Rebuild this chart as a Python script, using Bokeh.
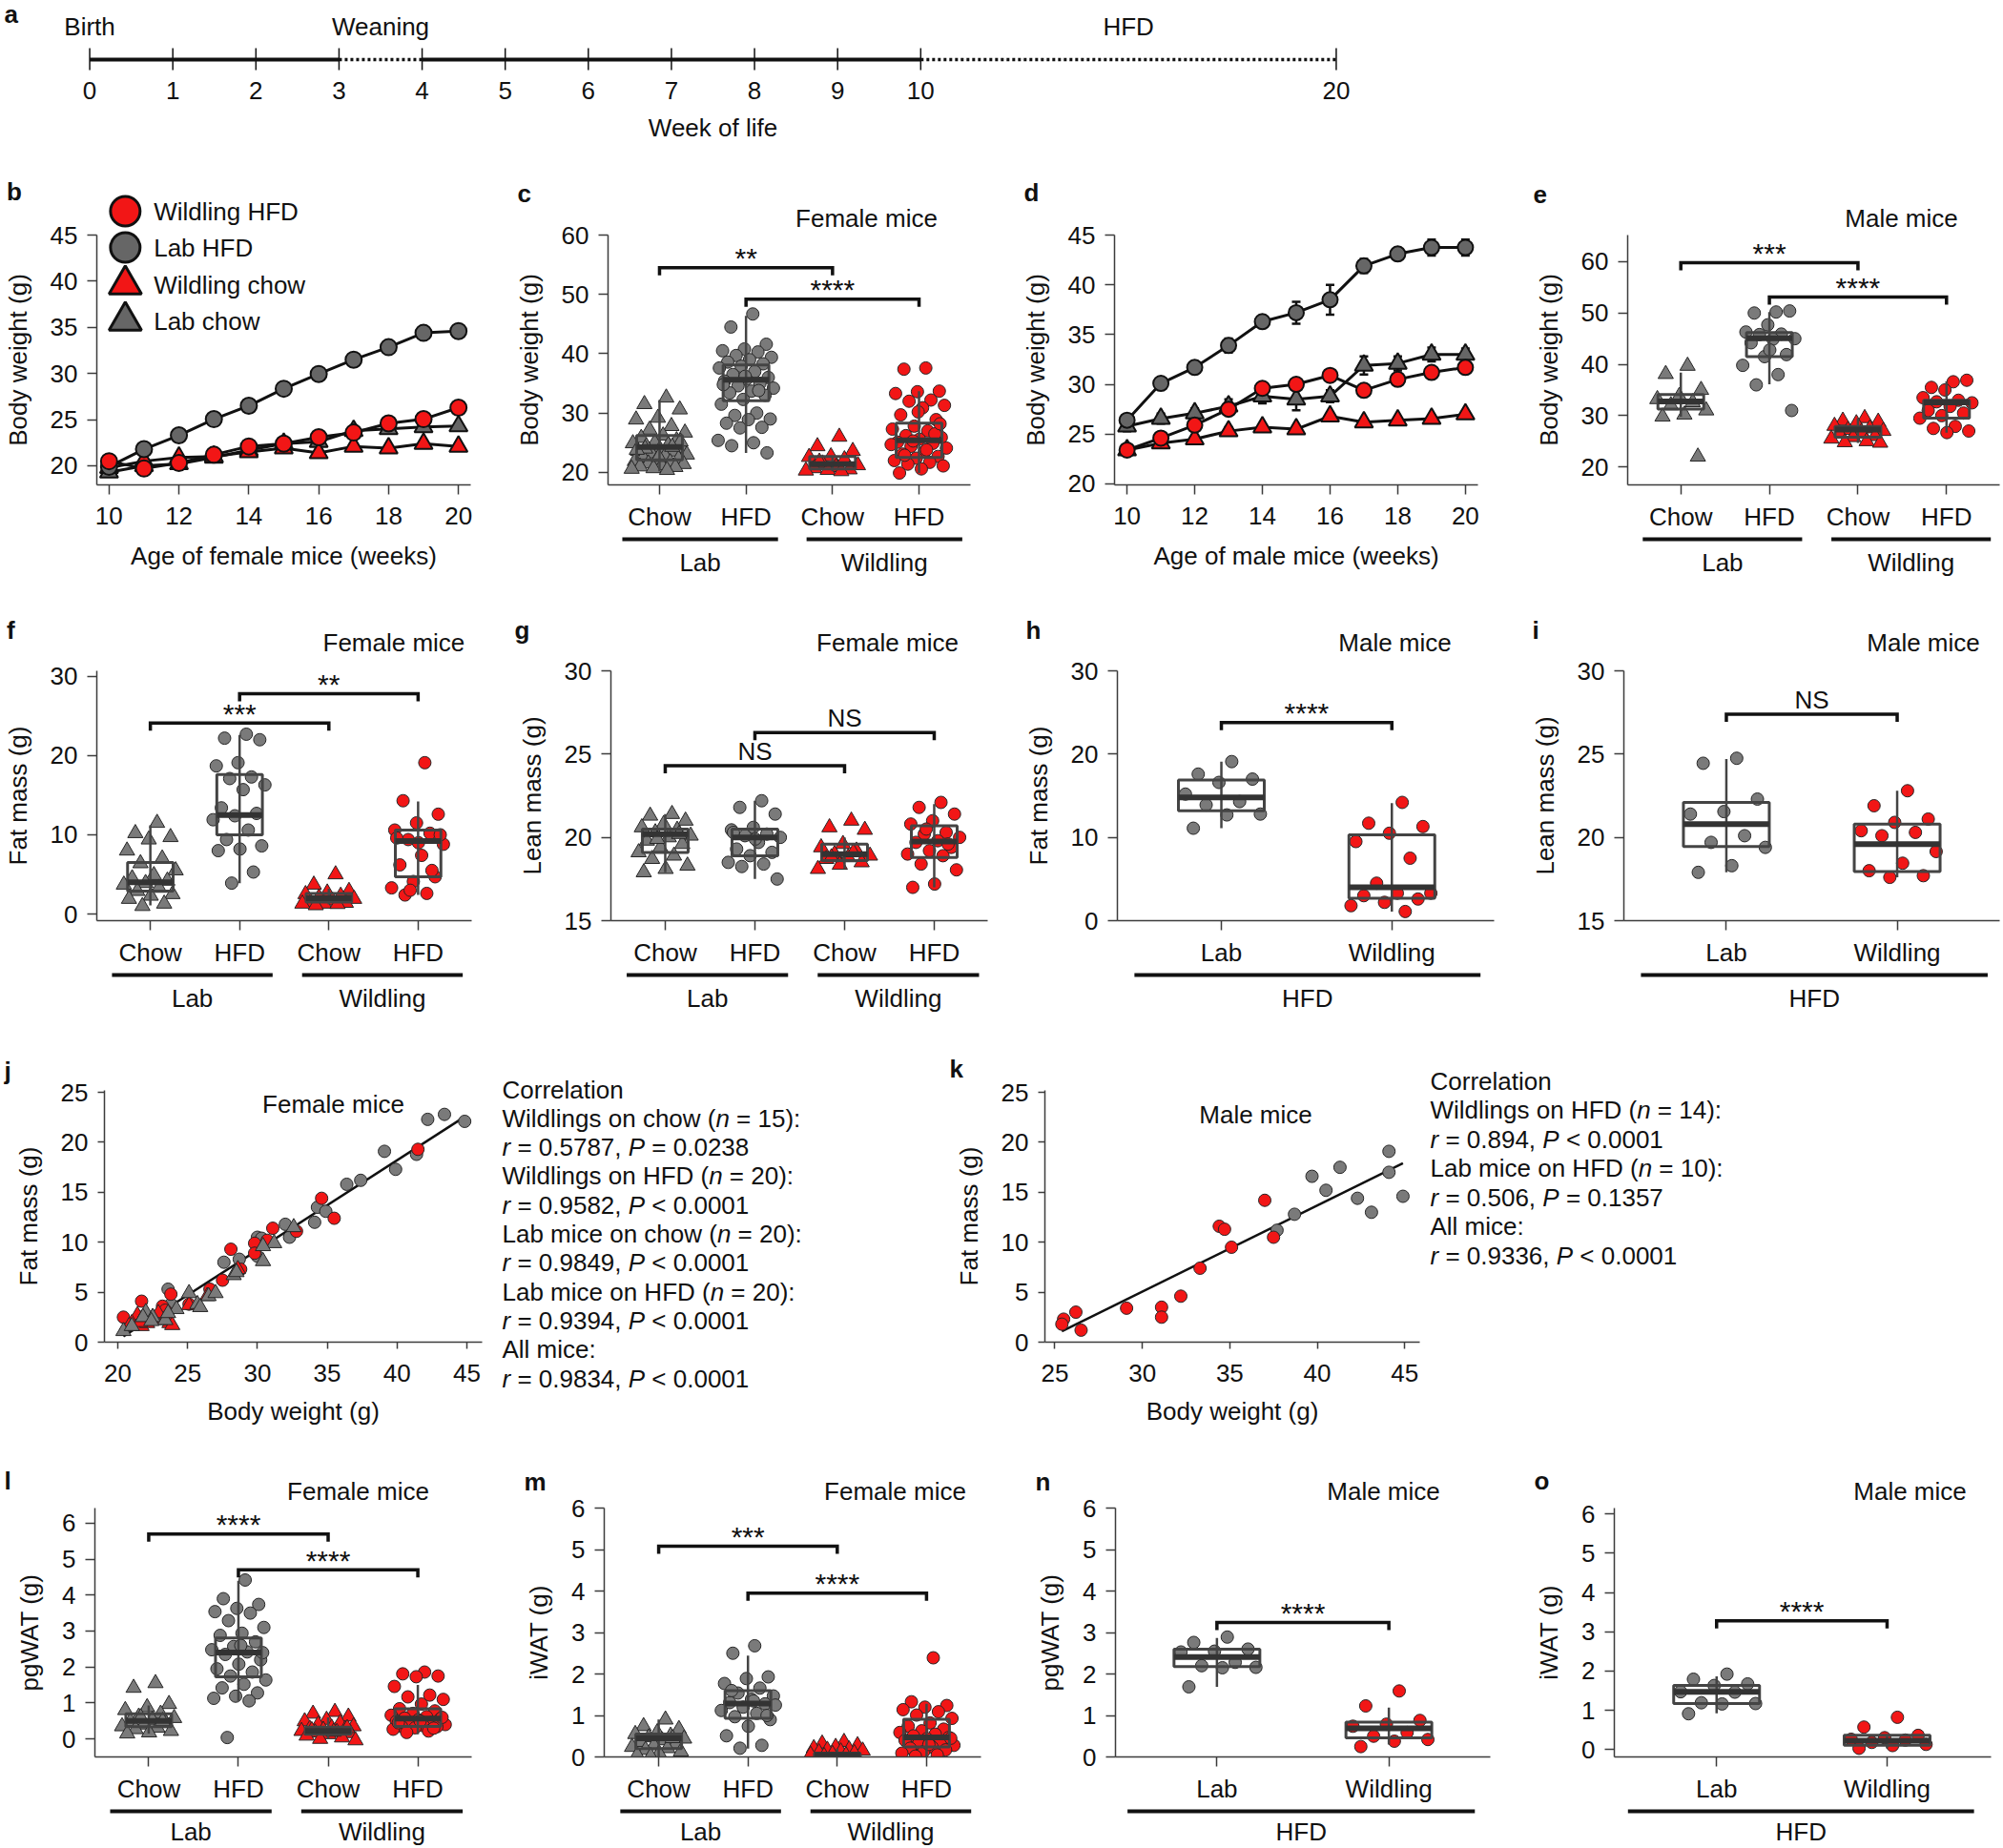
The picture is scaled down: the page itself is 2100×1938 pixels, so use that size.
import re
import numpy as np
from bokeh.plotting import figure
from bokeh.layouts import column, row
from bokeh.models import Range1d, FixedTicker
from bokeh.embed import file_html
from bokeh.resources import INLINE
from bokeh.core.properties import value

FONT = "Liberation Sans"
FSN = 26
FS = f"{FSN}px"
INK = "#111111"
AXC = "#3c3c3c"
BOXC = "#444444"
MEDC = "#333333"
GRAY = "#7a7a7a"
CURVE_GRAY = "#666666"
RED = "#f21616"

# ===================== DATA =====================
# a: timeline
timeline_weeks = [0, 1, 2, 3, 4, 5, 6, 7, 8, 9, 10, 20]
timeline_events = ["Birth", "Weaning", "HFD"]
timeline_event_weeks = [0, 3.5, 15]
timeline_solid = [(0, 3), (4, 10)]
timeline_dotted = [(3, 4), (10, 20)]

# b / d: body weight curves
age_weeks = [10, 11, 12, 13, 14, 15, 16, 17, 18, 19, 20]
legend_labels = ["Wildling HFD", "Lab HFD", "Wildling chow", "Lab chow"]
female_wild_hfd = [20.5, 19.7, 20.3, 21.2, 22.1, 22.4, 23.1, 23.6, 24.6, 25.05, 26.3]
female_wild_hfd_err = [0.3, 0.3, 0.3, 0.3, 0.3, 0.3, 0.3, 0.3, 0.3, 0.4, 0.6]
female_lab_hfd = [19.9, 21.8, 23.3, 25.05, 26.5, 28.35, 29.95, 31.5, 32.85, 34.4, 34.6]
female_lab_hfd_err = [0.3, 0.4, 0.4, 0.4, 0.4, 0.4, 0.4, 0.4, 0.4, 0.4, 0.4]
female_wild_chow = [19.8, 20.5, 20.9, 21.0, 21.5, 21.9, 21.4, 22.1, 21.9, 22.4, 22.1]
female_wild_chow_err = [0.2, 0.2, 0.2, 0.3, 0.3, 0.3, 0.3, 0.3, 0.3, 0.3, 0.3]
female_lab_chow = [19.3, 20.0, 20.2, 20.9, 21.7, 22.4, 22.6, 23.8, 24.0, 24.2, 24.3]
female_lab_chow_err = [0.2, 0.2, 0.2, 0.3, 0.3, 0.3, 0.3, 0.3, 0.3, 0.3, 0.3]

male_wild_hfd = [23.4, 24.6, 25.9, 27.5, 29.6, 30.0, 30.9, 29.4, 30.5, 31.2, 31.7]
male_wild_hfd_err = [0.3, 0.3, 0.3, 0.4, 0.3, 0.3, 0.3, 0.4, 0.4, 0.4, 0.3]
male_lab_hfd = [26.4, 30.1, 31.7, 33.9, 36.3, 37.2, 38.5, 41.9, 43.1, 43.75, 43.75]
male_lab_hfd_err = [0.4, 0.4, 0.6, 0.7, 0.6, 1.1, 1.5, 0.7, 0.6, 0.8, 0.8]
male_wild_chow = [23.4, 24.1, 24.5, 25.3, 25.7, 25.5, 26.8, 26.2, 26.4, 26.55, 27.0]
male_wild_chow_err = [0.3, 0.3, 0.4, 0.4, 0.3, 0.3, 0.4, 0.3, 0.3, 0.3, 0.3]
male_lab_chow = [25.8, 26.55, 27.1, 27.8, 28.8, 28.5, 28.8, 31.9, 32.1, 33.0, 33.0]
male_lab_chow_err = [0.5, 0.5, 0.5, 0.7, 0.7, 1.1, 0.6, 0.9, 0.7, 0.7, 0.6]

# category names
diet_cats = ["Chow", "HFD", "Chow", "HFD"]
strain_groups = ["Lab", "Wildling"]
strain_cats = ["Lab", "Wildling"]
hfd_group = ["HFD"]

# c: female body weight
c_lab_chow = [32.6, 31.5, 30.6, 29.2, 28.9, 27.8, 27.2, 26.7, 26.2, 25.8, 25.4, 25.0, 24.9, 24.6,
              24.4, 24.1, 23.9, 23.6, 23.5, 23.2, 23.0, 22.8, 22.5, 22.3, 22.1, 21.9, 21.7, 21.5,
              21.4, 21.2, 21.0, 20.9, 20.7, 20.6, 20.4, 24.0, 25.2, 22.6, 23.8, 24.3]
c_lab_hfd = [46.7, 44.5, 41.6, 40.8, 40.5, 40.3, 39.7, 39.4, 39.0, 38.6, 38.3, 37.9, 37.6, 37.0,
             36.5, 36.0, 35.7, 35.4, 35.0, 34.6, 34.2, 33.7, 33.4, 33.0, 32.3, 31.5, 30.0, 29.6,
             29.0, 28.9, 28.3, 27.6, 27.5, 25.4, 25.0, 24.5, 23.3, 36.2, 34.8, 33.8]
c_wild_chow = [26.0, 24.4, 23.6, 22.7, 22.6, 22.2, 21.5, 21.2, 20.9, 20.7, 20.5, 20.4, 20.3, 20.2, 21.8]
c_wild_hfd = [37.6, 37.4, 33.7, 33.6, 33.3, 32.2, 32.0, 31.3, 30.9, 29.7, 28.9, 27.8, 27.3, 27.0,
              26.2, 25.9, 25.6, 25.1, 24.9, 24.4, 24.1, 23.5, 23.1, 22.7, 22.4, 22.0, 21.7, 21.4,
              21.1, 20.6, 19.9, 26.5, 25.3, 24.7, 23.8, 22.9, 28.2, 30.2]
c_q1 = [22.1, 32.1, 20.6, 22.5]
c_med = [24.3, 35.6, 21.4, 25.4]
c_q3 = [26.2, 38.1, 22.7, 28.3]
c_lo = [20.2, 23.3, 20.2, 19.9]
c_hi = [32.2, 46.4, 22.7, 33.7]
c_sig = [(1, 3, 54.5, "**"), (2, 4, 49.2, "****")]

# e: male body weight
e_lab_chow = [39.7, 38.1, 35.0, 33.8, 33.2, 32.6, 32.0, 31.0, 30.2, 29.8, 22.0]
e_lab_hfd = [50.2, 50.0, 50.4, 47.7, 46.3, 45.9, 45.8, 45.0, 44.9, 44.2, 41.9, 41.5, 39.8, 38.0,
             36.0, 31.0, 42.8]
e_wild_chow = [29.5, 29.0, 28.8, 28.5, 28.0, 27.5, 27.2, 27.0, 26.8, 26.5, 26.0, 25.8, 25.5, 25.0,
               24.8, 24.7]
e_wild_hfd = [36.6, 35.5, 36.9, 35.0, 33.5, 33.0, 32.7, 32.5, 31.8, 31.0, 30.5, 30.0, 29.5, 27.9,
              27.5, 27.0, 26.7]
e_q1 = [31.3, 41.5, 25.8, 29.5]
e_med = [32.75, 45.1, 27.3, 32.6]
e_q3 = [34.1, 46.2, 27.9, 33.0]
e_lo = [29.8, 36.1, 24.7, 26.7]
e_hi = [38.4, 50.2, 29.5, 36.7]
e_sig = [(1, 3, 59.8, "***"), (2, 4, 53.1, "****")]

# f: female fat mass
f_lab_chow = [11.5, 10.2, 9.7, 9.4, 8.0, 7.0, 6.4, 5.5, 4.9, 4.5, 4.2, 3.9, 3.7, 3.3, 2.9, 2.5,
              2.3, 1.9, 1.3, 1.0]
f_lab_hfd = [22.7, 22.2, 22.0, 19.1, 18.7, 17.3, 17.1, 16.3, 15.7, 13.4, 12.7, 12.4, 11.9, 10.6,
             9.4, 8.6, 8.2, 8.0, 5.3, 3.9]
f_wild_chow = [5.0, 3.7, 2.9, 2.7, 2.5, 2.3, 2.1, 1.9, 1.7, 1.5, 1.4, 1.3, 1.3, 1.25, 1.1]
f_wild_hfd = [19.1, 14.3, 12.6, 11.5, 10.6, 10.2, 9.4, 8.8, 7.4, 6.2, 4.7, 4.1, 3.3, 2.6, 2.4,
              10.0, 9.0, 9.6, 5.5, 3.0]
f_q1 = [2.9, 10.0, 1.5, 4.7]
f_med = [4.0, 12.5, 2.0, 9.2]
f_q3 = [6.5, 17.6, 2.6, 10.6]
f_lo = [1.1, 3.9, 1.2, 2.4]
f_hi = [11.2, 22.6, 3.2, 14.2]
f_sig = [(2, 4, 27.8, "**"), (1, 3, 24.1, "***")]

# g: female lean mass
g_lab_chow = [21.4, 21.3, 21.0, 20.8, 20.6, 20.45, 20.3, 20.1, 20.0, 19.8, 19.6, 19.4, 19.1, 18.9,
              18.7, 18.3, 18.1, 17.9, 20.2, 19.9]
g_lab_hfd = [22.2, 21.8, 21.4, 20.6, 20.45, 20.2, 20.1, 20.0, 19.7, 19.3, 19.1, 18.9, 18.5, 18.4,
             18.25, 17.5, 19.9, 20.3]
g_wild_chow = [21.0, 20.6, 20.45, 19.6, 19.4, 19.2, 19.0, 18.9, 18.8, 18.7, 18.5, 18.35, 18.1,
               19.1, 18.8]
g_wild_hfd = [22.1, 21.8, 21.4, 21.0, 20.8, 20.3, 20.2, 20.0, 19.8, 19.7, 19.4, 19.2, 19.0, 18.9,
              18.4, 18.05, 17.2, 17.0, 19.6, 20.5]
g_q1 = [19.1, 18.9, 18.6, 18.8]
g_med = [20.2, 20.0, 19.0, 19.75]
g_q3 = [20.5, 20.5, 19.6, 20.7]
g_lo = [17.9, 17.5, 18.1, 17.0]
g_hi = [21.4, 22.2, 20.0, 22.0]
g_sig = [(1, 3, 24.3, "NS"), (2, 4, 26.3, "NS")]

# h: male fat mass (HFD)
h_lab = [19.1, 17.6, 17.0, 16.6, 15.2, 14.3, 13.9, 12.8, 12.7, 11.1]
h_wild = [14.2, 11.7, 11.3, 10.5, 9.5, 7.5, 4.5, 3.3, 3.3, 3.0, 2.6, 2.2, 1.8, 1.1]
h_q1 = [13.2, 2.7]
h_med = [14.8, 4.0]
h_q3 = [16.9, 10.3]
h_lo = [11.1, 1.1]
h_hi = [19.1, 14.1]
h_sig = [(1, 2, 23.8, "****")]

# i: male lean mass (HFD)
i_lab = [24.75, 24.45, 22.3, 21.55, 21.4, 20.1, 19.7, 19.4, 18.3, 17.9]
i_wild = [22.8, 21.9, 21.1, 20.9, 20.4, 20.3, 20.1, 19.15, 18.45, 18.0, 17.7, 17.6]
i_q1 = [19.45, 17.95]
i_med = [20.8, 19.6]
i_q3 = [22.1, 20.8]
i_lo = [17.9, 17.6]
i_hi = [24.7, 22.8]
i_sig = [(1, 2, 27.4, "NS")]

# j: female fat mass vs body weight
j_lab_hfd_bw = [42.2, 43.4, 44.85, 39.1, 39.9, 41.4, 36.4, 37.4, 34.3, 34.9, 34.1, 32.0, 32.3, 30.0,
                30.3, 27.6, 28.7, 23.6, 23.8, 30.0]
j_lab_hfd_fat = [22.3, 22.8, 22.1, 19.1, 17.3, 18.8, 15.8, 16.2, 13.5, 13.1, 12.0, 11.8, 10.5, 10.5,
                 10.4, 8.0, 8.3, 5.3, 3.8, 8.6]
j_wild_hfd_bw = [41.5, 34.6, 35.5, 32.8, 31.1, 30.7, 29.8, 29.8, 28.1, 28.8, 27.5, 23.8, 23.2, 23.4,
                 21.7, 21.7, 20.4, 21.2, 26.6, 25.1]
j_wild_hfd_fat = [19.3, 14.4, 12.4, 11.1, 11.4, 10.2, 9.9, 8.9, 9.3, 7.3, 6.2, 4.8, 3.6, 3.2, 4.1,
                  2.5, 2.5, 1.9, 5.3, 3.8]
j_wild_chow_bw = [21.4, 21.0, 21.7, 22.5, 23.7, 25.1, 26.4, 28.6, 23.3, 21.9, 20.8, 22.1, 22.9, 21.6, 23.9]
j_wild_chow_fat = [2.7, 1.9, 1.6, 2.5, 1.9, 3.7, 4.6, 7.3, 2.2, 2.2, 1.6, 1.9, 2.9, 2.0, 1.7]
j_lab_chow_bw = [20.4, 22.0, 22.5, 23.4, 24.2, 25.1, 25.7, 25.9, 26.5, 27.0, 28.3, 28.5, 30.4, 31.2,
                 30.4, 32.6, 21.8, 23.6, 21.0, 22.4]
j_lab_chow_fat = [1.1, 3.0, 2.5, 2.2, 3.3, 4.9, 3.8, 3.5, 4.6, 4.9, 6.7, 7.0, 8.1, 9.9, 9.6, 11.5,
                  2.5, 2.9, 1.6, 2.1]
j_stats = ["Correlation",
           "Wildlings on chow (n = 15):", "r = 0.5787, P = 0.0238",
           "Wildlings on HFD (n = 20):", "r = 0.9582, P < 0.0001",
           "Lab mice on chow (n = 20):", "r = 0.9849, P < 0.0001",
           "Lab mice on HFD (n = 20):", "r = 0.9394, P < 0.0001",
           "All mice:", "r = 0.9834, P < 0.0001"]

# k: male fat mass vs body weight
k_lab_bw = [44.1, 44.1, 41.3, 39.7, 40.5, 42.3, 44.9, 43.1, 38.7, 37.7]
k_lab_fat = [19.1, 17.0, 17.5, 16.6, 15.2, 14.4, 14.6, 13.0, 12.8, 11.2]
k_wild_bw = [37.0, 34.4, 34.7, 35.1, 37.5, 33.3, 32.2, 31.1, 31.1, 29.1, 26.2, 25.5, 25.4, 26.5]
k_wild_fat = [14.2, 11.6, 11.3, 9.5, 10.5, 7.4, 4.6, 3.5, 2.5, 3.4, 3.0, 2.3, 1.8, 1.2]
k_stats = ["Correlation",
           "Wildlings on HFD (n = 14):", "r = 0.894, P < 0.0001",
           "Lab mice on HFD (n = 10):", "r = 0.506, P = 0.1357",
           "All mice:", "r = 0.9336, P < 0.0001"]

# l: female pgWAT
l_lab_chow = [1.55, 1.42, 0.97, 0.88, 0.8, 0.7, 0.62, 0.58, 0.53, 0.49, 0.44, 0.4, 0.35, 0.31, 0.27,
              0.22, 0.18, 0.15, 0.5, 0.6]
l_lab_hfd = [4.42, 3.9, 3.74, 3.63, 3.54, 3.5, 3.29, 3.1, 2.94, 2.88, 2.7, 2.57, 2.48, 2.42, 2.35,
             2.2, 2.08, 1.95, 1.86, 1.75, 1.64, 1.52, 1.42, 1.28, 1.19, 1.13, 1.06, 0.04, 2.4, 2.6]
l_wild_chow = [0.75, 0.7, 0.62, 0.53, 0.49, 0.44, 0.4, 0.35, 0.31, 0.28, 0.27, 0.25, 0.22, 0.19,
               0.18, 0.16, 0.13, 0.09, 0.04, 0.0, -0.04, 0.2, 0.24, 0.3]
l_wild_hfd = [1.86, 1.81, 1.75, 1.73, 1.46, 1.22, 1.17, 1.1, 0.97, 0.84, 0.78, 0.71, 0.66, 0.62,
              0.58, 0.55, 0.53, 0.49, 0.46, 0.44, 0.4, 0.37, 0.35, 0.34, 0.31, 0.27, 0.22, 0.18,
              0.6, 0.5, 0.45, 0.3]
l_q1 = [0.34, 1.73, 0.13, 0.35]
l_med = [0.5, 2.4, 0.22, 0.57]
l_q3 = [0.7, 2.81, 0.33, 0.84]
l_lo = [0.15, 1.06, 0.0, 0.13]
l_hi = [0.93, 4.4, 0.6, 1.5]
l_sig = [(1, 3, 5.7, "****"), (2, 4, 4.7, "****")]

# m: female iWAT
m_lab_chow = [0.9, 0.74, 0.67, 0.59, 0.55, 0.51, 0.47, 0.44, 0.4, 0.36, 0.32, 0.28, 0.24, 0.21,
              0.17, 0.13, 0.09, 0.05, 0.45, 0.02]
m_lab_hfd = [2.68, 2.5, 1.93, 1.89, 1.77, 1.66, 1.54, 1.47, 1.39, 1.31, 1.28, 1.2, 1.12, 1.05, 0.97,
             0.9, 0.74, 0.51, 0.28, 0.21, 1.25, 1.35, 1.6, 1.0]
m_wild_chow = [0.36, 0.32, 0.28, 0.24, 0.21, 0.18, 0.17, 0.15, 0.13, 0.11, 0.09, 0.07, 0.05, 0.04, 0.02]
m_wild_hfd = [2.39, 1.33, 1.24, 1.2, 1.14, 1.09, 1.01, 0.93, 0.82, 0.74, 0.67, 0.63, 0.59, 0.55,
              0.51, 0.47, 0.44, 0.4, 0.36, 0.32, 0.28, 0.24, 0.21, 0.17, 0.13, 0.09, 0.05, 0.02,
              0.45, 0.3]
m_q1 = [0.2, 0.93, 0.02, 0.24]
m_med = [0.45, 1.29, 0.05, 0.47]
m_q3 = [0.55, 1.6, 0.09, 0.91]
m_lo = [0.0, 0.2, 0.0, 0.0]
m_hi = [0.9, 2.44, 0.2, 1.28]
m_sig = [(1, 3, 5.08, "***"), (2, 4, 3.95, "****")]

# n: male pgWAT
n_lab = [2.89, 2.76, 2.6, 2.55, 2.53, 2.28, 2.2, 2.16, 2.15, 1.69]
n_wild = [1.59, 1.23, 0.88, 0.79, 0.74, 0.59, 0.5, 0.42, 0.38, 0.25]
n_q1 = [2.18, 0.46]
n_med = [2.41, 0.69]
n_q3 = [2.6, 0.84]
n_lo = [1.69, 0.3]
n_hi = [2.87, 1.19]
n_sig = [(1, 2, 3.24, "****")]

# o: male iWAT
o_lab = [1.92, 1.79, 1.67, 1.63, 1.47, 1.46, 1.19, 1.17, 1.16, 0.91]
o_wild = [0.82, 0.57, 0.36, 0.3, 0.26, 0.24, 0.18, 0.13, 0.1, 0.03]
o_q1 = [1.17, 0.11]
o_med = [1.47, 0.22]
o_q3 = [1.63, 0.36]
o_lo = [0.92, 0.03]
o_hi = [1.86, 0.36]
o_sig = [(1, 2, 3.28, "****")]


# ===================== HELPERS =====================
# Liberation Sans advance widths (1/1000 em), used to place italic runs in a line
CHAR_W = {" ": 278, "(": 333, ")": 333, ":": 278, "=": 584, "<": 584, ",": 278, ".": 278,
          "a": 556, "b": 556, "c": 500, "d": 556, "e": 556, "f": 278, "g": 556, "h": 556,
          "i": 222, "j": 222, "k": 500, "l": 222, "m": 833, "n": 556, "o": 556, "p": 556,
          "r": 333, "s": 500, "t": 278, "u": 556, "w": 722, "A": 667, "C": 722, "D": 722,
          "F": 611, "H": 722, "L": 556, "P": 667, "W": 944}


def text_width(s, px):
    return sum(CHAR_W.get(ch, 556) for ch in s) * px / 1000.0


def jitter(n):
    k = np.arange(1, n + 1)
    return ((k * 0.6180339887498949) % 1.0 - 0.5) * 2.0


class Panel:
    """Figure plus the mapping between page pixels and its data space."""

    def __init__(self, outer, frame, xr, yr):
        ol, ot, orr, ob = outer
        fl, ft, fr, fb = frame
        self.frame, self.xr, self.yr = frame, xr, yr
        self.ppx = (fr - fl) / (xr[1] - xr[0])
        self.ppy = (fb - ft) / (yr[1] - yr[0])
        p = figure(width=orr - ol, height=ob - ot,
                   x_range=Range1d(*xr), y_range=Range1d(*yr),
                   min_border_left=fl - ol, min_border_right=orr - fr,
                   min_border_top=ft - ot, min_border_bottom=ob - fb,
                   output_backend="svg", toolbar_location=None, tools="")
        p.outline_line_color = None
        p.xgrid.visible = False
        p.ygrid.visible = False
        p.background_fill_color = "white"
        p.border_fill_color = "white"
        self.p = p

    def dx(self, x):
        return self.xr[0] + (x - self.frame[0]) / self.ppx

    def dy(self, y):
        return self.yr[0] + (self.frame[3] - y) / self.ppy

    def text(self, x, y, t, align="center", size=FS, style="normal"):
        self.p.text(x=[self.dx(x)], y=[self.dy(y)], text=[t], text_align=align,
                    text_baseline="middle", text_font=value(FONT), text_font_size=value(size),
                    text_font_style=style, text_color=INK, level="overlay")

    def rich_line(self, x, y, line):
        # italic n, r and P (statistical symbols); other runs upright
        parts = re.split(r"(?<![A-Za-z])([nrP])(?= [=<])", line)
        cur = x
        for idx, seg in enumerate(parts):
            if not seg:
                continue
            body = seg.lstrip(" ")
            cur += text_width(seg[:len(seg) - len(body)], FSN)
            if body.strip():
                self.text(cur, y, body.rstrip(" "), align="left",
                          style="italic" if idx % 2 else "normal")
            cur += text_width(body, FSN)


def style_axes(p, tick_out=10, xstand=11, ystand=16, xlab_stand=8):
    for ax in list(p.xaxis) + list(p.yaxis):
        ax.axis_line_color = AXC
        ax.axis_line_width = 1.5
        ax.major_tick_line_color = AXC
        ax.major_tick_line_width = 1.5
        ax.major_tick_out = tick_out
        ax.major_tick_in = 0
        ax.minor_tick_line_color = None
        ax.major_label_text_font = FONT
        ax.major_label_text_font_size = FS
        ax.major_label_text_color = INK
        ax.axis_label_text_font = FONT
        ax.axis_label_text_font_size = FS
        ax.axis_label_text_font_style = "normal"
        ax.axis_label_text_color = INK
    for ax in p.xaxis:
        ax.axis_label_standoff = xstand
        ax.major_label_standoff = xlab_stand
    for ax in p.yaxis:
        ax.axis_label_standoff = ystand
        ax.major_label_standoff = 10


def sig_brackets(P, sig):
    p = P.p
    drop = 8 / P.ppy
    xs = [[a, a, b, b] for a, b, y, t in sig]
    ys = [[y - drop, y, y, y - drop] for a, b, y, t in sig]
    p.multi_line(xs, ys, line_width=3.5, line_color=INK, line_join="miter", level="overlay")
    for a, b, y, t in sig:
        ns = (t == "NS")
        lift = (15 if ns else 10) / P.ppy
        p.text(x=[(a + b) / 2], y=[y + lift], text=[t], text_align="center",
               text_baseline="middle", text_font=value(FONT),
               text_font_size=value(FS if ns else "30px"), text_color=INK, level="overlay")


def under_groups(P, names, spans, line_off=57, text_off=81):
    p = P.p
    yl = P.yr[0] - line_off / P.ppy
    yt = P.yr[0] - text_off / P.ppy
    p.segment(x0=[s[0] for s in spans], y0=yl, x1=[s[1] for s in spans], y1=yl,
              line_width=4, line_color=INK, level="overlay")
    p.text(x=[(s[0] + s[1]) / 2 for s in spans], y=yt, text=names, text_align="center",
           text_baseline="middle", text_font=value(FONT), text_font_size=value(FS),
           text_color=INK, level="overlay")


def cat_panel(outer, frame, xr, yr, yticks, ylabel, cat_names, series, stats, sig,
              group_names, group_spans, title, title_xy, letter, letter_xy,
              box_px, spread_px, text_off=81):
    P = Panel(outer, frame, xr, yr)
    p = P.p
    cats = list(range(1, len(cat_names) + 1))
    for pos, (vals, marker, color) in zip(cats, series):
        off = jitter(len(vals)) * spread_px / P.ppx
        size = 13 if marker == "circle" else 16
        p.scatter(pos + off, vals, marker=marker, size=size, fill_color=color,
                  line_color="#262626", line_width=1)
    q1, med, q3, lo, hi = stats
    hw = box_px / P.ppx / 2
    p.segment(cats, lo, cats, hi, line_width=2.5, line_color=BOXC)
    p.quad(left=[c - hw for c in cats], right=[c + hw for c in cats], bottom=q1, top=q3,
           fill_color=None, line_color=BOXC, line_width=3)
    p.segment([c - hw for c in cats], med, [c + hw for c in cats], med,
              line_width=6, line_color=MEDC)
    sig_brackets(P, sig)
    under_groups(P, group_names, group_spans, text_off=text_off)
    style_axes(p)
    p.xaxis.ticker = FixedTicker(ticks=cats)
    p.xaxis.major_label_overrides = {c: n for c, n in zip(cats, cat_names)}
    p.yaxis.ticker = FixedTicker(ticks=yticks)
    p.yaxis.axis_label = ylabel
    P.text(title_xy[0], title_xy[1], title)
    P.text(letter_xy[0], letter_xy[1], letter, align="left", style="bold")
    return p


def curve_panel(outer, frame, xr, yr, series, xlabel, letter, letter_xy, csize, tsize, legend=None):
    P = Panel(outer, frame, xr, yr)
    p = P.p
    for vals, err, marker, color in series:
        p.line(age_weeks, vals, line_width=3, line_color=INK)
    for vals, err, marker, color in series:
        lo = [v - e for v, e in zip(vals, err)]
        hi = [v + e for v, e in zip(vals, err)]
        p.segment(age_weeks, lo, age_weeks, hi, line_width=2.5, line_color=INK)
        p.scatter(age_weeks + age_weeks, lo + hi, marker="dash", size=9, line_width=2.5,
                  line_color=INK)
    for vals, err, marker, color in series:
        p.scatter(age_weeks, vals, marker=marker, size=csize if marker == "circle" else tsize,
                  fill_color=color, line_color=INK, line_width=2)
    if legend is not None:
        names, markers, colors, mx, tx, rows_y = legend
        ly = [P.dy(y) for y in rows_y]
        for yy, mk, col in zip(ly, markers, colors):
            p.scatter([P.dx(mx)], [yy], marker=mk, size=31 if mk == "circle" else 34,
                      fill_color=col, line_color=INK, line_width=3, level="overlay")
        p.text(x=[P.dx(tx)] * len(names), y=ly, text=names, text_align="left",
               text_baseline="middle", text_font=value(FONT), text_font_size=value(FS),
               text_color=INK, level="overlay")
    style_axes(p, xstand=15, xlab_stand=13)
    p.xaxis.ticker = FixedTicker(ticks=[10, 12, 14, 16, 18, 20])
    p.yaxis.ticker = FixedTicker(ticks=[20, 25, 30, 35, 40, 45])
    p.xaxis.axis_label = xlabel
    p.yaxis.axis_label = "Body weight (g)"
    P.text(letter_xy[0], letter_xy[1], letter, align="left", style="bold")
    return p


def scatter_panel(outer, frame, xr, yr, xticks, series, title, title_xy, letter, letter_xy,
                  stats, stats_x, stats_y0, stats_dy):
    P = Panel(outer, frame, xr, yr)
    p = P.p
    all_x = np.concatenate([np.asarray(s[0], float) for s in series])
    all_y = np.concatenate([np.asarray(s[1], float) for s in series])
    slope, icpt = np.polyfit(all_x, all_y, 1)
    xf = np.array([all_x.min(), all_x.max()])
    p.line(xf, slope * xf + icpt, line_width=2.5, line_color=INK)
    for xs, ys, marker, color in series:
        p.scatter(xs, ys, marker=marker, size=13 if marker == "circle" else 16,
                  fill_color=color, line_color="#262626", line_width=1)
    style_axes(p, tick_out=7, xstand=13, xlab_stand=16)
    p.xaxis.ticker = FixedTicker(ticks=xticks)
    p.yaxis.ticker = FixedTicker(ticks=[0, 5, 10, 15, 20, 25])
    p.xaxis.axis_label = "Body weight (g)"
    p.yaxis.axis_label = "Fat mass (g)"
    P.text(title_xy[0], title_xy[1], title)
    P.text(letter_xy[0], letter_xy[1], letter, align="left", style="bold")
    for i, t in enumerate(stats):
        P.rich_line(stats_x, stats_y0 + i * stats_dy, t)
    return p


# ===================== PANEL a =====================
def tpos(w):
    return w if w <= 10 else 10 + (w - 10) * 0.5


ROW1_TOP = 176

A = Panel((0, 0, 1460, ROW1_TOP), (50, 12, 1444, 75), (-0.5, 15.5), (0, 63))
pa = A.p
LINE_Y = A.dy(62)
TICK_TOP, TICK_BOT = A.dy(50), A.dy(73)
pa.segment(x0=[tpos(a) for a, b in timeline_solid], y0=LINE_Y,
           x1=[tpos(b) for a, b in timeline_solid], y1=LINE_Y, line_width=4, line_color=INK)
pa.segment(x0=[tpos(a) for a, b in timeline_dotted], y0=LINE_Y,
           x1=[tpos(b) for a, b in timeline_dotted], y1=LINE_Y, line_width=3.5, line_color=INK,
           line_dash="3 3")
tick_x = [tpos(w) for w in timeline_weeks]
pa.segment(x0=tick_x, y0=TICK_BOT, x1=tick_x, y1=TICK_TOP, line_width=1.5, line_color=INK)
pa.text(x=[tpos(w) for w in timeline_event_weeks], y=A.dy(27), text=timeline_events,
        text_align="center", text_baseline="middle", text_font=value(FONT),
        text_font_size=value(FS), text_color=INK)
style_axes(pa, tick_out=0, xstand=12, xlab_stand=10)
pa.yaxis.visible = False
pa.xaxis.axis_line_color = None
pa.xaxis.major_tick_line_color = None
pa.xaxis.ticker = FixedTicker(ticks=tick_x)
pa.xaxis.major_label_overrides = {tpos(w): str(w) for w in timeline_weeks if w > 10}
pa.xaxis.axis_label = "Week of life"
A.text(4, 14, "a", align="left", style="bold")

# ===================== ROW 1 =====================
pb = curve_panel((0, ROW1_TOP, 520, 640), (99, 246, 493, 508), (9.65, 20.35), (17.93, 45),
                 [(female_lab_chow, female_lab_chow_err, "triangle", CURVE_GRAY),
                  (female_wild_chow, female_wild_chow_err, "triangle", RED),
                  (female_lab_hfd, female_lab_hfd_err, "circle", CURVE_GRAY),
                  (female_wild_hfd, female_wild_hfd_err, "circle", RED)],
                 "Age of female mice (weeks)", "b", (4, 200), 17, 19,
                 legend=(legend_labels, ["circle", "circle", "triangle", "triangle"],
                         [RED, CURVE_GRAY, RED, CURVE_GRAY], 129, 159, [221, 259, 298, 336]))

pc = cat_panel((520, ROW1_TOP, 1040, 640), (637, 246, 1017, 508), (0.405, 4.595), (17.9, 60),
               [20, 30, 40, 50, 60], "Body weight (g)", diet_cats,
               [(c_lab_chow, "triangle", GRAY), (c_lab_hfd, "circle", GRAY),
                (c_wild_chow, "triangle", RED), (c_wild_hfd, "circle", RED)],
               (c_q1, c_med, c_q3, c_lo, c_hi), c_sig,
               strain_groups, [(0.57, 2.37), (2.7, 4.5)],
               "Female mice", (908, 228), "c", (542, 202), 48, 30)

pd = curve_panel((1040, ROW1_TOP, 1570, 640), (1168, 246, 1549, 508), (9.63, 20.37), (19.9, 45),
                 [(male_lab_chow, male_lab_chow_err, "triangle", CURVE_GRAY),
                  (male_wild_chow, male_wild_chow_err, "triangle", RED),
                  (male_lab_hfd, male_lab_hfd_err, "circle", CURVE_GRAY),
                  (male_wild_hfd, male_wild_hfd_err, "circle", RED)],
                 "Age of male mice (weeks)", "d", (1073, 201), 16, 19)

pe = cat_panel((1570, ROW1_TOP, 2098, 640), (1706, 246, 2096, 508), (0.40, 4.6), (16.5, 65.2),
               [20, 30, 40, 50, 60], "Body weight (g)", diet_cats,
               [(e_lab_chow, "triangle", GRAY), (e_lab_hfd, "circle", GRAY),
                (e_wild_chow, "triangle", RED), (e_wild_hfd, "circle", RED)],
               (e_q1, e_med, e_q3, e_lo, e_hi), e_sig,
               strain_groups, [(0.57, 2.37), (2.7, 4.5)],
               "Male mice", (1993, 228), "e", (1607, 203), 48, 30)

# ===================== ROW 2 =====================
pf = cat_panel((0, 640, 520, 1100), (99, 703, 494, 965), (0.40, 4.6), (-0.84, 30.7),
               [0, 10, 20, 30], "Fat mass (g)", diet_cats,
               [(f_lab_chow, "triangle", GRAY), (f_lab_hfd, "circle", GRAY),
                (f_wild_chow, "triangle", RED), (f_wild_hfd, "circle", RED)],
               (f_q1, f_med, f_q3, f_lo, f_hi), f_sig,
               strain_groups, [(0.57, 2.37), (2.7, 4.5)],
               "Female mice", (412, 673), "f", (4, 660), 48, 30)

pg = cat_panel((520, 640, 1060, 1100), (640, 703, 1035, 965), (0.394, 4.596), (15, 30),
               [15, 20, 25, 30], "Lean mass (g)", diet_cats,
               [(g_lab_chow, "triangle", GRAY), (g_lab_hfd, "circle", GRAY),
                (g_wild_chow, "triangle", RED), (g_wild_hfd, "circle", RED)],
               (g_q1, g_med, g_q3, g_lo, g_hi), g_sig,
               strain_groups, [(0.57, 2.37), (2.7, 4.5)],
               "Female mice", (930, 673), "g", (539, 660), 48, 30)

ph = cat_panel((1060, 640, 1580, 1100), (1171, 703, 1566, 965), (0.39, 2.6), (0, 30),
               [0, 10, 20, 30], "Fat mass (g)", strain_cats,
               [(h_lab, "circle", GRAY), (h_wild, "circle", RED)],
               (h_q1, h_med, h_q3, h_lo, h_hi), h_sig,
               hfd_group, [(0.49, 2.52)],
               "Male mice", (1462, 673), "h", (1075, 660), 90, 46)

pi = cat_panel((1580, 640, 2098, 1100), (1702, 703, 2096, 965), (0.40, 2.6), (15, 30),
               [15, 20, 25, 30], "Lean mass (g)", strain_cats,
               [(i_lab, "circle", GRAY), (i_wild, "circle", RED)],
               (i_q1, i_med, i_q3, i_lo, i_hi), i_sig,
               hfd_group, [(0.5, 2.53)],
               "Male mice", (2016, 673), "i", (1606, 660), 90, 46)

# ===================== ROW 3 =====================
pj = scatter_panel((0, 1100, 900, 1520), (109, 1143, 505, 1407), (19.04, 46.1), (0, 25.2),
                   [20, 25, 30, 35, 40, 45],
                   [(j_lab_hfd_bw, j_lab_hfd_fat, "circle", GRAY),
                    (j_wild_hfd_bw, j_wild_hfd_fat, "circle", RED),
                    (j_wild_chow_bw, j_wild_chow_fat, "triangle", RED),
                    (j_lab_chow_bw, j_lab_chow_fat, "triangle", GRAY)],
                   "Female mice", (349, 1157), "j", (4, 1122),
                   j_stats, 526, 1142, 30.3)

pk = scatter_panel((900, 1100, 2098, 1520), (1095, 1143, 1488, 1407), (24.43, 45.86), (0, 25.2),
                   [25, 30, 35, 40, 45],
                   [(k_lab_bw, k_lab_fat, "circle", GRAY),
                    (k_wild_bw, k_wild_fat, "circle", RED)],
                   "Male mice", (1316, 1168), "k", (995, 1120),
                   k_stats, 1499, 1133, 30.5)

# ===================== ROW 4 =====================
pl = cat_panel((0, 1520, 520, 1936), (99, 1581, 494, 1842), (0.40, 4.6), (-0.5, 6.42),
               [0, 1, 2, 3, 4, 5, 6], "pgWAT (g)", diet_cats,
               [(l_lab_chow, "triangle", GRAY), (l_lab_hfd, "circle", GRAY),
                (l_wild_chow, "triangle", RED), (l_wild_hfd, "circle", RED)],
               (l_q1, l_med, l_q3, l_lo, l_hi), l_sig,
               strain_groups, [(0.57, 2.37), (2.7, 4.5)],
               "Female mice", (375, 1563), "l", (4, 1552), 48, 30, text_off=78)

pm = cat_panel((520, 1520, 1060, 1936), (633, 1581, 1028, 1842), (0.39, 4.61), (0, 6.0),
               [0, 1, 2, 3, 4, 5, 6], "iWAT (g)", diet_cats,
               [(m_lab_chow, "triangle", GRAY), (m_lab_hfd, "circle", GRAY),
                (m_wild_chow, "triangle", RED), (m_wild_hfd, "circle", RED)],
               (m_q1, m_med, m_q3, m_lo, m_hi), m_sig,
               strain_groups, [(0.57, 2.37), (2.7, 4.5)],
               "Female mice", (938, 1563), "m", (549, 1553), 48, 30, text_off=78)

pn = cat_panel((1060, 1520, 1580, 1936), (1169, 1581, 1562, 1842), (0.41, 2.59), (0, 6.0),
               [0, 1, 2, 3, 4, 5, 6], "pgWAT (g)", strain_cats,
               [(n_lab, "circle", GRAY), (n_wild, "circle", RED)],
               (n_q1, n_med, n_q3, n_lo, n_hi), n_sig,
               hfd_group, [(0.48, 2.5)],
               "Male mice", (1450, 1563), "n", (1085, 1553), 90, 46, text_off=78)

po = cat_panel((1580, 1520, 2098, 1936), (1692, 1581, 2087, 1842), (0.40, 2.61), (-0.19, 6.15),
               [0, 1, 2, 3, 4, 5, 6], "iWAT (g)", strain_cats,
               [(o_lab, "circle", GRAY), (o_wild, "circle", RED)],
               (o_q1, o_med, o_q3, o_lo, o_hi), o_sig,
               hfd_group, [(0.48, 2.51)],
               "Male mice", (2002, 1563), "o", (1608, 1552), 90, 46, text_off=78)

layout = column(
    pa,
    row(pb, pc, pd, pe),
    row(pf, pg, ph, pi),
    row(pj, pk),
    row(pl, pm, pn, po),
)

open("out.html", "w").write(file_html(layout, INLINE))
